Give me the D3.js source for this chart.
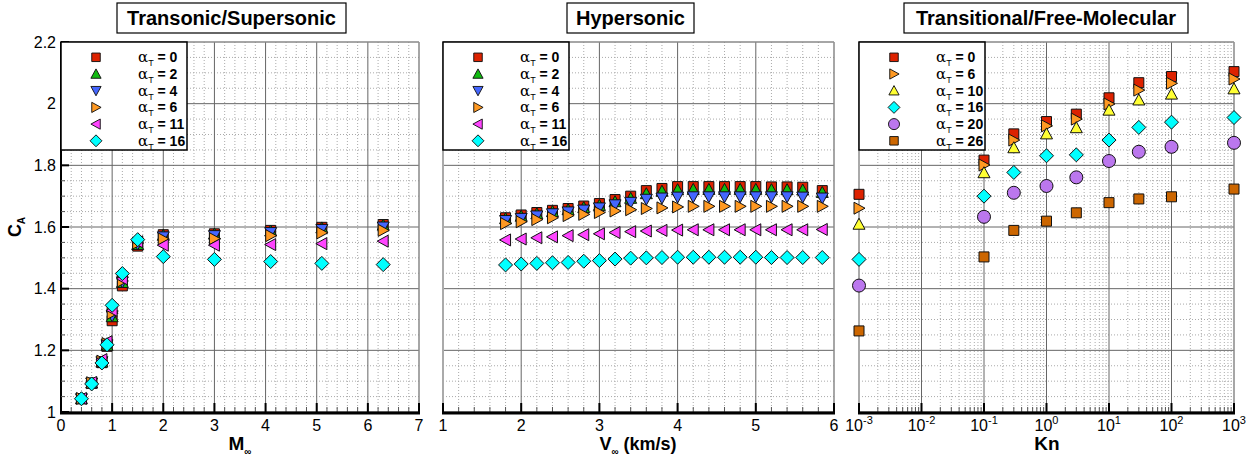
<!DOCTYPE html>
<html>
<head>
<meta charset="utf-8">
<script src="https://cdn.jsdelivr.net/npm/d3@7"></script>
<style>
body { margin: 0; background: #fff; }
text { font-family: Arial, "Liberation Sans", sans-serif; }
</style>
</head>
<body>
<div class="vis"></div>
<script>
// ---- data ----
var machNums = [0.4, 0.6, 0.8, 0.9, 1.0, 1.2, 1.5, 2.0, 3.0, 4.1, 5.1, 6.3];
var transA0  = [1.043, 1.093, 1.160, 1.213, 1.296, 1.409, 1.538, 1.575, 1.578, 1.589, 1.599, 1.608];
var transA2  = [1.043, 1.094, 1.162, 1.216, 1.309, 1.420, 1.543, 1.573, 1.577, 1.587, 1.597, 1.606];
var transA4  = [1.043, 1.094, 1.163, 1.218, 1.312, 1.422, 1.545, 1.568, 1.572, 1.582, 1.592, 1.600];
var transA6  = [1.044, 1.095, 1.165, 1.222, 1.320, 1.425, 1.548, 1.561, 1.562, 1.572, 1.581, 1.589];
var transA11 = [1.044, 1.096, 1.170, 1.228, 1.330, 1.432, 1.552, 1.541, 1.541, 1.543, 1.546, 1.554];
var transA16 = [1.043, 1.091, 1.159, 1.218, 1.346, 1.449, 1.559, 1.504, 1.495, 1.488, 1.482, 1.478];

var velocities = [1.8, 2.0, 2.2, 2.4, 2.6, 2.8, 3.0, 3.2, 3.4, 3.6, 3.8, 4.0, 4.2, 4.4, 4.6, 4.8, 5.0, 5.2, 5.4, 5.6, 5.85];
var hypA0  = [1.630, 1.639, 1.647, 1.654, 1.660, 1.668, 1.676, 1.689, 1.700, 1.718, 1.725, 1.731, 1.731, 1.731, 1.731, 1.731, 1.731, 1.730, 1.730, 1.729, 1.718];
var hypA2  = [1.627, 1.635, 1.643, 1.650, 1.656, 1.663, 1.670, 1.682, 1.693, 1.708, 1.716, 1.721, 1.722, 1.722, 1.722, 1.722, 1.722, 1.721, 1.721, 1.720, 1.712];
var hypA4  = [1.621, 1.628, 1.636, 1.643, 1.649, 1.655, 1.662, 1.672, 1.680, 1.690, 1.694, 1.697, 1.698, 1.698, 1.698, 1.698, 1.698, 1.698, 1.698, 1.697, 1.694];
var hypA6  = [1.611, 1.617, 1.624, 1.630, 1.637, 1.641, 1.647, 1.652, 1.656, 1.660, 1.662, 1.665, 1.667, 1.667, 1.667, 1.667, 1.667, 1.667, 1.667, 1.667, 1.667];
var hypA11 = [1.558, 1.561, 1.565, 1.568, 1.572, 1.575, 1.578, 1.582, 1.585, 1.587, 1.589, 1.590, 1.591, 1.591, 1.591, 1.591, 1.591, 1.591, 1.591, 1.591, 1.592];
var hypA16 = [1.477, 1.480, 1.482, 1.484, 1.485, 1.489, 1.491, 1.496, 1.499, 1.500, 1.501, 1.502, 1.502, 1.502, 1.502, 1.502, 1.502, 1.501, 1.501, 1.501, 1.501];

var knudsen = [0.001, 0.1, 0.3, 1, 3, 10, 30, 100, 1000];
var fmA0  = [1.706, 1.817, 1.902, 1.942, 1.966, 2.019, 2.068, 2.088, 2.104];
var fmA6  = [1.661, 1.801, 1.882, 1.928, 1.950, 1.999, 2.044, 2.066, 2.080];
var fmA10 = [1.609, 1.776, 1.857, 1.902, 1.922, 1.979, 2.012, 2.031, 2.048];
var fmA16 = [1.495, 1.700, 1.777, 1.831, 1.834, 1.882, 1.923, 1.940, 1.955];
var fmA20 = [1.410, 1.633, 1.711, 1.733, 1.761, 1.814, 1.844, 1.860, 1.873];
var fmA26 = [1.263, 1.503, 1.589, 1.619, 1.646, 1.679, 1.691, 1.698, 1.723];

var yTicks = [1, 1.2, 1.4, 1.6, 1.8, 2, 2.2];

// marker styles (one per angle of attack)
var sty = {
  "0":  {shape: "square",  fill: "#dd2200"},
  "2":  {shape: "triUp",   fill: "#11bb11"},
  "4":  {shape: "triDown", fill: "#4466ff"},
  "6":  {shape: "triRight",fill: "#ff9922"},
  "10": {shape: "triUp",   fill: "#ffff33"},
  "11": {shape: "triLeft", fill: "#ff44ff"},
  "16": {shape: "diamond", fill: "#00ffff"},
  "20": {shape: "circle",  fill: "#bb77ee"},
  "26": {shape: "square",  fill: "#cc6600"}
};

var panels = [
  {title: "Transonic/Supersonic", x0: 61, x1: 419, type: "lin", dom: [0, 7], minor: 0.2,
   xs: machNums, series: [["0", transA0], ["2", transA2], ["4", transA4], ["6", transA6], ["11", transA11], ["16", transA16]],
   titleBox: [117, 346], legX: 61},
  {title: "Hypersonic", x0: 443, x1: 834, type: "lin", dom: [1, 6], minor: 0.2,
   xs: velocities, series: [["0", hypA0], ["2", hypA2], ["4", hypA4], ["6", hypA6], ["11", hypA11], ["16", hypA16]],
   titleBox: [567, 694], legX: 443},
  {title: "Transitional/Free-Molecular", x0: 859, x1: 1234, type: "log", dom: [1e-3, 1e3],
   xs: knudsen, series: [["0", fmA0], ["6", fmA6], ["10", fmA10], ["16", fmA16], ["20", fmA20], ["26", fmA26]],
   titleBox: [904, 1188], legX: 859}
];

var W = 1253, H = 461, plotTop = 42, plotBottom = 412;

var svg = d3.select(".vis").append("svg")
  .attr("width", W).attr("height", H);

var y = d3.scaleLinear().domain([1, 2.2]).range([plotBottom, plotTop]);

function markerPath(shape) {
  var p = d3.path();
  if (shape === "square") { var h = 5; p.rect(-h, -h, 2 * h, 2 * h); }
  else if (shape === "circle") { p.arc(0, 0, 6.5, 0, 2 * Math.PI); }
  else if (shape === "diamond") { p.moveTo(0, -7); p.lineTo(7, 0); p.lineTo(0, 7); p.lineTo(-7, 0); p.closePath(); }
  else {
    var pts = [[0, -6], [6, 5], [-6, 5]];
    var rot = {triUp: 0, triRight: 90, triDown: 180, triLeft: 270}[shape] * Math.PI / 180;
    pts.forEach(function(q, i) {
      var px = q[0] * Math.cos(rot) - q[1] * Math.sin(rot);
      var py = q[0] * Math.sin(rot) + q[1] * Math.cos(rot);
      if (i === 0) p.moveTo(px, py); else p.lineTo(px, py);
    });
    p.closePath();
  }
  return p.toString();
}

var yMinor = d3.range(1, 2.2001, 0.05).filter(function(v) { return Math.abs(v * 5 - Math.round(v * 5)) > 1e-6; });

panels.forEach(function(pn, pi) {
  var x = pn.type === "log" ? d3.scaleLog() : d3.scaleLinear();
  x.domain(pn.dom).range([pn.x0, pn.x1]);
  var g = svg.append("g");

  var majorX, minorX;
  if (pn.type === "log") {
    majorX = d3.range(-3, 4).map(function(e) { return Math.pow(10, e); });
    minorX = x.ticks().filter(function(v) {
      return Math.abs(Math.log10(v) - Math.round(Math.log10(v))) > 1e-6;
    });
  } else {
    majorX = d3.range(pn.dom[0], pn.dom[1] + 0.001, 1);
    minorX = d3.range(pn.dom[0], pn.dom[1] + 0.001, pn.minor).filter(function(v) {
      return Math.abs(v - Math.round(v)) > 1e-6;
    });
  }

  // minor grid
  g.selectAll(".mx").data(minorX).enter().append("line")
    .attr("x1", function(d) { return x(d); }).attr("x2", function(d) { return x(d); })
    .attr("y1", plotTop).attr("y2", plotBottom)
    .style("stroke", "#aaa").style("stroke-dasharray", "1,2");
  g.selectAll(".my").data(yMinor).enter().append("line")
    .attr("x1", pn.x0).attr("x2", pn.x1)
    .attr("y1", function(d) { return y(d); }).attr("y2", function(d) { return y(d); })
    .style("stroke", "#aaa").style("stroke-dasharray", "1,2");
  // major grid
  g.selectAll(".gx").data(majorX).enter().append("line")
    .attr("x1", function(d) { return x(d); }).attr("x2", function(d) { return x(d); })
    .attr("y1", plotTop).attr("y2", plotBottom)
    .style("stroke", "#666");
  g.selectAll(".gy").data(yTicks).enter().append("line")
    .attr("x1", pn.x0).attr("x2", pn.x1)
    .attr("y1", function(d) { return y(d); }).attr("y2", function(d) { return y(d); })
    .style("stroke", "#666");

  // frame: top & right thin gray
  g.append("line").attr("x1", pn.x0).attr("x2", pn.x1).attr("y1", plotTop).attr("y2", plotTop).style("stroke", "#999");
  g.append("line").attr("x1", pn.x1).attr("x2", pn.x1).attr("y1", plotTop).attr("y2", plotBottom).style("stroke", "#999");

  // left axis
  g.append("line").attr("x1", pn.x0).attr("x2", pn.x0).attr("y1", plotTop).attr("y2", plotBottom)
    .style("stroke", pi === 0 ? "#000" : "#aaa").style("stroke-width", 2);
  if (pi === 0) {
    g.selectAll(".lym").data(yMinor).enter().append("line")
      .attr("x1", pn.x0).attr("x2", pn.x0 + 4)
      .attr("y1", function(d) { return y(d); }).attr("y2", function(d) { return y(d); })
      .style("stroke", "#555");
    g.selectAll(".ly").data(yTicks).enter().append("line")
      .attr("x1", pn.x0).attr("x2", pn.x0 + 8)
      .attr("y1", function(d) { return y(d); }).attr("y2", function(d) { return y(d); })
      .style("stroke", "#000").style("stroke-width", 2);
    g.selectAll(".lyt").data(yTicks).enter().append("text")
      .attr("x", pn.x0 - 5).attr("y", function(d) { return y(d); })
      .attr("dy", "0.35em").attr("text-anchor", "end")
      .style("font-size", "16px")
      .text(function(d) { return d; });
  }

  // bottom axis
  g.selectAll(".tmin").data(minorX).enter().append("line")
    .attr("x1", function(d) { return x(d); }).attr("x2", function(d) { return x(d); })
    .attr("y1", plotBottom).attr("y2", plotBottom - 5)
    .style("stroke", "#555");
  g.selectAll(".tmaj").data(majorX).enter().append("line")
    .attr("x1", function(d) { return x(d); }).attr("x2", function(d) { return x(d); })
    .attr("y1", plotBottom).attr("y2", plotBottom - 9)
    .style("stroke", "#000").style("stroke-width", 2);
  g.append("line").attr("x1", pn.x0 - 1).attr("x2", pn.x1 + 1).attr("y1", plotBottom + 1).attr("y2", plotBottom + 1)
    .style("stroke", "#000").style("stroke-width", 3);

  var tl = g.selectAll(".tl").data(majorX).enter().append("text")
    .attr("x", function(d) { return x(d); }).attr("y", 431)
    .attr("text-anchor", "middle").style("font-size", "16px");
  if (pn.type === "log") {
    tl.append("tspan").text("10");
    tl.append("tspan").attr("dy", -7).style("font-size", "11px")
      .text(function(d) { return String(Math.round(Math.log10(d))); });
  } else {
    tl.text(function(d) { return d; });
  }

  // data points
  pn.series.forEach(function(s) {
    var st = sty[s[0]];
    g.selectAll(null).data(s[1]).enter().append("path")
      .attr("d", markerPath(st.shape))
      .attr("transform", function(d, i) { return "translate(" + x(pn.xs[i]) + "," + y(d) + ")"; })
      .style("fill", st.fill).style("stroke", "#111").style("stroke-width", 1);
  });

  // legend
  var lw = 126, lh = 108;
  g.append("rect").attr("x", pn.legX).attr("y", plotTop).attr("width", lw).attr("height", lh)
    .style("fill", "#fff").style("stroke", "#000").style("stroke-width", 1.5);
  pn.series.forEach(function(s, i) {
    var st = sty[s[0]];
    var ly = 57.3 + i * 16.7;
    g.append("path").attr("d", markerPath(st.shape))
      .attr("transform", "translate(" + (pn.legX + 35) + "," + ly + ") scale(0.85)")
      .style("fill", st.fill).style("stroke", "#111").style("stroke-width", 1.1);
    var t = g.append("text").attr("x", pn.legX + 77).attr("y", ly + 5).style("font-size", "14px");
    t.append("tspan").style("font-family", "'DejaVu Serif', serif").style("font-size", "15px").text("\u03b1");
    t.append("tspan").attr("dy", 4).style("font-size", "9px").text("T");
    t.append("tspan").attr("dy", -4).style("font-weight", "bold").text(" = " + s[0]);
  });

  // title box
  var tb = pn.titleBox;
  g.append("rect").attr("x", tb[0]).attr("y", 3).attr("width", tb[1] - tb[0]).attr("height", 30)
    .style("fill", "#fff").style("stroke", "#000").style("stroke-width", 1.2);
  g.append("text").attr("x", (tb[0] + tb[1]) / 2).attr("y", 25)
    .attr("text-anchor", "middle").style("font-size", "20px").style("font-weight", "bold")
    .text(pn.title);
});

// axis titles
var xl1 = svg.append("text").attr("x", 240).attr("y", 450).attr("text-anchor", "middle")
  .style("font-size", "19px").style("font-weight", "bold");
xl1.append("tspan").text("M");
xl1.append("tspan").attr("dy", 5).style("font-size", "10px").text("\u221e");

var xl2 = svg.append("text").attr("x", 638).attr("y", 450).attr("text-anchor", "middle")
  .style("font-size", "18px").style("font-weight", "bold");
xl2.append("tspan").text("V");
xl2.append("tspan").attr("dy", 5).style("font-size", "10px").text("\u221e");
xl2.append("tspan").attr("dy", -5).text(" (km/s)");

svg.append("text").attr("x", 1047).attr("y", 450).attr("text-anchor", "middle")
  .style("font-size", "19px").style("font-weight", "bold").text("Kn");

var yl = svg.append("text").attr("transform", "translate(21,227) rotate(-90)")
  .attr("text-anchor", "middle").style("font-size", "18px").style("font-weight", "bold");
yl.append("tspan").text("C");
yl.append("tspan").attr("dy", 4).style("font-size", "10px").text("A");
</script>
</body>
</html>
